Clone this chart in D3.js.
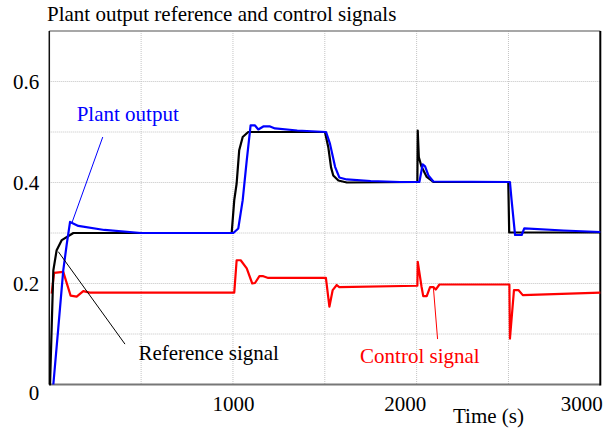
<!DOCTYPE html>
<html><head><meta charset="utf-8">
<script src="https://cdn.jsdelivr.net/npm/d3@7"></script>
</head>
<body style="margin:0;background:#fff">
<svg id="chart" width="614" height="428"></svg>
<script>
// ---- data ----
const chartTitle = "Plant output reference and control signals";
const xLabel = "Time (s)";
const xTickValues = [1000, 2000, 3000];
const yTickValues = [0, 0.2, 0.4, 0.6];
const xGridValues = [500, 1000, 1500, 2000, 2500];
const yGridValues = [0.1, 0.2, 0.3, 0.4, 0.5, 0.6];

const refTime  = [0, 4, 13, 22, 40, 68, 131, 993, 1007, 1020, 1034, 1053, 1083, 1150, 1501, 1519, 1534, 1546, 1574, 1620, 2004, 2006, 2012, 2027, 2055, 2091, 2499, 2504, 3000];
const refValue = [0, 0, 0.114, 0.226, 0.266, 0.286, 0.300, 0.300, 0.365, 0.398, 0.464, 0.490, 0.500, 0.500, 0.500, 0.470, 0.430, 0.414, 0.404, 0.400, 0.401, 0.503, 0.450, 0.431, 0.411, 0.401, 0.401, 0.301, 0.301];

const outTime  = [22, 49, 76, 95, 113, 158, 300, 500, 1002, 1029, 1053, 1075, 1096, 1120, 1138, 1165, 1202, 1229, 1350, 1507, 1528, 1556, 1579, 1619, 1750, 1909, 2015, 2033, 2046, 2064, 2091, 2508, 2517, 2536, 2572, 2586, 2800, 3000];
const outValue = [0, 0.112, 0.226, 0.278, 0.322, 0.314, 0.306, 0.300, 0.300, 0.309, 0.365, 0.444, 0.513, 0.513, 0.505, 0.511, 0.511, 0.507, 0.503, 0.500, 0.477, 0.431, 0.410, 0.406, 0.403, 0.401, 0.401, 0.436, 0.432, 0.414, 0.402, 0.401, 0.365, 0.296, 0.296, 0.309, 0.305, 0.302];

const ctlTime  = [13, 26, 76, 116, 149, 185, 220, 1007, 1020, 1042, 1075, 1105, 1120, 1144, 1165, 1192, 1506, 1525, 1543, 1565, 1579, 2004, 2006, 2027, 2036, 2055, 2073, 2091, 2104, 2124, 2505, 2508, 2530, 2554, 2578, 3000];
const ctlValue = [0.180, 0.221, 0.223, 0.176, 0.174, 0.185, 0.182, 0.182, 0.246, 0.246, 0.230, 0.200, 0.201, 0.2145, 0.2145, 0.211, 0.211, 0.154, 0.187, 0.197, 0.193, 0.1955, 0.243, 0.193, 0.175, 0.175, 0.193, 0.193, 0.188, 0.198, 0.198, 0.091, 0.187, 0.187, 0.177, 0.182];

// annotation labels: text, anchor (time, value), pointer from -> to (time, value)
const annoText   = ["Plant output", "Reference signal", "Control signal"];
const annoAt     = [[149, 0.521], [485, 0.048], [1692, 0.042]];
const annoFrom   = [[291, 0.490], [412, 0.080], [2114, 0.090]];
const annoTo     = [[122, 0.319], [49, 0.263], [2091, 0.193]];
const annoColor  = ["#0000ff", "#000000", "#ff0000"];

// ---- drawing ----
const fam = ["Liberation", "Serif"].join(" ");
const FONT = `'${fam}'`;
const FS = 21;
const svg = d3.select("#chart");
const m = {left: 49.3, right: 600.3, top: 31, bottom: 384.5};
const x = d3.scaleLinear().domain([0, 3000]).range([m.left, m.right]);
const y = d3.scaleLinear().domain([0, 0.7]).range([m.bottom, m.top]);

// grid
svg.append("g").selectAll("line").data(xGridValues).join("line")
  .attr("x1", d => x(d)).attr("x2", d => x(d)).attr("y1", m.top).attr("y2", m.bottom)
  .attr("stroke", "#c4c4c4").attr("stroke-width", 1).attr("stroke-dasharray", "1,1");
svg.append("g").selectAll("line").data(yGridValues).join("line")
  .attr("x1", m.left).attr("x2", m.right).attr("y1", d => y(d)).attr("y2", d => y(d))
  .attr("stroke", "#c4c4c4").attr("stroke-width", 1).attr("stroke-dasharray", "1,1");

// frame
svg.append("line").attr("x1", m.left).attr("x2", m.right).attr("y1", m.top).attr("y2", m.top)
  .attr("stroke", "#8a8a8a").attr("stroke-width", 1.5);
svg.append("line").attr("x1", m.left).attr("x2", m.right).attr("y1", m.bottom).attr("y2", m.bottom)
  .attr("stroke", "#777").attr("stroke-width", 2);
svg.append("line").attr("x1", m.left).attr("x2", m.left).attr("y1", m.top).attr("y2", m.bottom)
  .attr("stroke", "#111").attr("stroke-width", 1.5);
svg.append("line").attr("x1", m.right).attr("x2", m.right).attr("y1", m.top).attr("y2", m.bottom + 1)
  .attr("stroke", "#000").attr("stroke-width", 2);

// axes (labels only)
const yAxis = svg.append("g").attr("transform", `translate(${m.left},0)`)
  .call(d3.axisLeft(y).tickValues(yTickValues).tickSize(0).tickPadding(10)
        .tickFormat(d => d === 0 ? "0" : d3.format(".1f")(d)));
yAxis.attr("font-family", null);
yAxis.select(".domain").remove();
yAxis.selectAll("text").attr("font-size", FS).attr("fill", "#000")
  .style("font-family", FONT)
  .attr("dy", d => d === 0 ? "0.72em" : "0.33em");

const xAxis = svg.append("g").attr("transform", `translate(0,${m.bottom})`)
  .call(d3.axisBottom(x).tickValues(xTickValues).tickSize(0).tickPadding(12).tickFormat(d3.format("d")));
xAxis.attr("font-family", null);
xAxis.select(".domain").remove();
xAxis.selectAll("text").attr("font-size", FS).attr("fill", "#000")
  .style("font-family", FONT)
  .attr("text-anchor", "middle")
  .attr("dx", (d, i) => [0, -12, -19][i]);

// title and x label
svg.append("text").attr("x", 47).attr("y", 21).attr("font-size", FS).style("font-family", FONT).text(chartTitle);
svg.append("text").attr("x", 453).attr("y", 423).attr("font-size", FS).style("font-family", FONT).text(xLabel);

// series
const line = d3.line().x(d => x(d[0])).y(d => y(d[1]));
const zip = (a, b) => a.map((t, i) => [t, b[i]]);
svg.append("path").datum(zip(ctlTime, ctlValue)).attr("d", line)
  .attr("fill", "none").attr("stroke", "#ff0000").attr("stroke-width", 2.2).attr("stroke-linejoin", "round");
svg.append("path").datum(zip(refTime, refValue)).attr("d", line)
  .attr("fill", "none").attr("stroke", "#000").attr("stroke-width", 2.2).attr("stroke-linejoin", "round");
svg.append("path").datum(zip(outTime, outValue)).attr("d", line)
  .attr("fill", "none").attr("stroke", "#0000ff").attr("stroke-width", 2.2).attr("stroke-linejoin", "round");

// annotations
annoText.forEach((t, i) => {
  svg.append("line")
    .attr("x1", x(annoFrom[i][0])).attr("y1", y(annoFrom[i][1]))
    .attr("x2", x(annoTo[i][0])).attr("y2", y(annoTo[i][1]))
    .attr("stroke", annoColor[i]).attr("stroke-width", 1);
  svg.append("text").attr("x", x(annoAt[i][0])).attr("y", y(annoAt[i][1]))
    .attr("font-size", FS).style("font-family", FONT).attr("fill", annoColor[i]).text(t);
});
</script>
</body></html>
